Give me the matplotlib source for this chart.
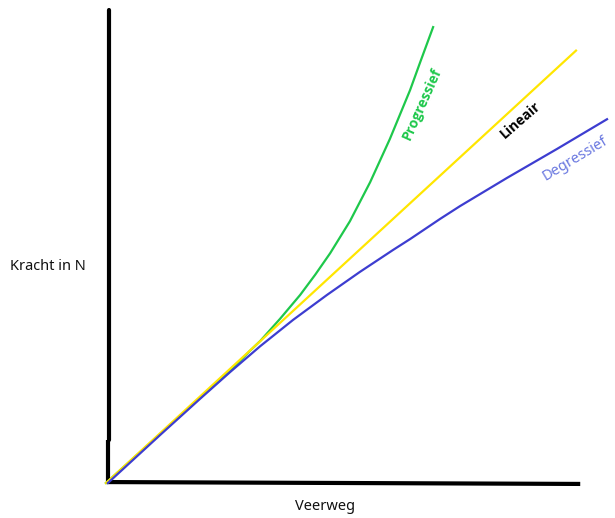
import numpy as np
import matplotlib.pyplot as plt

plt.rcParams['font.family'] = ['Noto Sans', 'DejaVu Sans']
bold_font = ['Open Sans', 'Noto Sans', 'DejaVu Sans']

x_lineair = [0.0, 10.0]
y_lineair = [0.0, 9.2]

x_progressief = [0.0, 1.15, 2.00, 2.64, 3.06, 3.28, 3.70, 4.13, 4.45, 4.77,
                 5.19, 5.62, 6.04, 6.47, 6.68, 6.96]
y_progressief = [0.0, 1.04, 1.81, 2.38, 2.81, 3.02, 3.49, 4.00, 4.43, 4.89,
                 5.57, 6.40, 7.32, 8.36, 8.94, 9.70]

x_degressief = [0.04, 1.15, 2.00, 2.64, 3.28, 3.98, 4.70, 5.40, 6.11, 6.47,
                7.11, 7.53, 8.53, 9.60, 10.66]
y_degressief = [0.0, 1.02, 1.79, 2.36, 2.91, 3.47, 4.00, 4.49, 4.96, 5.19,
                5.62, 5.89, 6.49, 7.11, 7.74]

# figure 615x518 px, 47 px per eenheid
fig = plt.figure(figsize=(6.15, 5.18), dpi=100)
ax = fig.add_axes([0, 0, 1, 1])
ax.set_xlim(-106 / 47, 509 / 47)
ax.set_ylim(-35 / 47, 483 / 47)
ax.axis('off')

# assen als dikke zwarte lijnen
ax.plot([0.035, 0.035], [0.0, 0.92], color='black', lw=3, solid_capstyle='butt')
ax.plot([0.06, 0.06], [0.92, 10.06], color='black', lw=3, solid_capstyle='round')
ax.plot([0.02, 10.09], [0.02, -0.02], color='black', lw=3, solid_capstyle='butt')

# karakteristieken
ax.plot(x_progressief, y_progressief, color='#1ec84b', lw=1.6)
ax.plot(x_lineair, y_lineair, color='#ffe600', lw=1.6)
ax.plot(x_degressief, y_degressief, color='#3d3dd0', lw=1.6)

# labels
ax.text(6.72, 8.06, 'Progressief', color='#1ec84b', fontsize=10, fontweight='bold',
        family=bold_font, rotation=66, ha='center', va='center')
ax.text(8.81, 7.72, 'Lineair', color='black', fontsize=10, fontweight='bold',
        family=bold_font, rotation=41, ha='center', va='center')
ax.text(9.98, 6.91, 'Degressief', color='#6a78e0', fontsize=10.5,
        rotation=31, ha='center', va='center')

ax.text(-1.23, 4.60, 'Kracht in N', fontsize=10.5, ha='center', va='center', color='#111111')
ax.text(4.66, -0.49, 'Veerweg', fontsize=10.5, ha='center', va='center', color='#111111')

plt.savefig('out.png', dpi=100)
